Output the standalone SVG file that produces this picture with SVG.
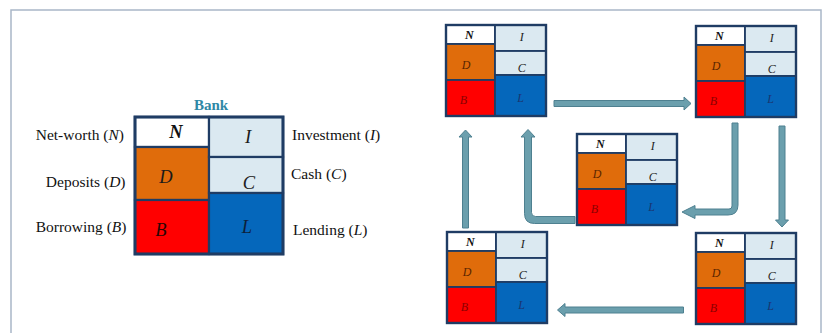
<svg xmlns="http://www.w3.org/2000/svg" xmlns:xlink="http://www.w3.org/1999/xlink" width="825" height="333" viewBox="0 0 825 333">
  <style>
    .frame { fill: none; stroke: #a9b7c8; stroke-width: 1.5; }
    .cell { stroke: #1f3c64; stroke-width: 2.2; }
    .outer { fill: none; stroke: #1f3c64; stroke-width: 3; }
    .scell { stroke: #1f3c64; stroke-width: 1.8; }
    .souter { fill: none; stroke: #1f3c64; stroke-width: 2.4; }
    .nw { fill: #ffffff; }
    .dep { fill: #e06c0b; }
    .bor { fill: #ff0000; }
    .lt { fill: #dbe9f1; }
    .len { fill: #0567bb; }
    .lbl { font-family: "Liberation Serif", "DejaVu Serif", serif; font-size: 15.5px; fill: #111; }
    .big { font-family: "Liberation Serif", "DejaVu Serif", serif; font-size: 18.5px; font-style: italic; text-anchor: middle; }
    .sm { font-family: "Liberation Serif", "DejaVu Serif", serif; font-size: 12px; font-style: italic; text-anchor: middle; }
    .title { font-family: "Liberation Serif", "DejaVu Serif", serif; font-size: 15px; font-weight: bold; fill: #2f88a6; text-anchor: middle; }
    .arrow { fill: #6b9fad; stroke: #4e8090; stroke-width: 1; stroke-linejoin: round; }
  </style>

  <defs>
    <!-- small balance-sheet block, 100 x 91 -->
    <g id="mini">
      <rect class="scell nw" x="0" y="0" width="49" height="19"/>
      <rect class="scell dep" x="0" y="19" width="49" height="36"/>
      <rect class="scell bor" x="0" y="55" width="49" height="36"/>
      <rect class="scell lt" x="49" y="0" width="51" height="26"/>
      <rect class="scell lt" x="49" y="26" width="51" height="24"/>
      <rect class="scell len" x="49" y="50" width="51" height="41"/>
      <rect class="souter" x="0" y="0" width="100" height="91"/>
      <text class="sm" x="23.3" y="13.5" font-weight="bold" fill="#111">N</text>
      <text class="sm" x="75.7" y="16" fill="#222">I</text>
      <text class="sm" x="20" y="43.5" fill="#5a2500">D</text>
      <text class="sm" x="75.7" y="47" fill="#2a2a2a">C</text>
      <text class="sm" x="17.3" y="78.5" fill="#8b0000">B</text>
      <text class="sm" x="74.7" y="77" fill="#1a3570">L</text>
    </g>
  </defs>

  <rect class="frame" x="11" y="10" width="810" height="340"/>

  <!-- bank balance sheet with labels -->
  <g id="bank">
    <text class="title" x="211" y="110">Bank</text>
    <rect class="cell nw" x="135" y="117" width="74" height="30"/>
    <rect class="cell dep" x="135" y="147" width="74" height="53"/>
    <rect class="cell bor" x="135" y="200" width="74" height="54"/>
    <rect class="cell lt" x="209" y="117" width="74" height="40"/>
    <rect class="cell lt" x="209" y="157" width="74" height="36"/>
    <rect class="cell len" x="209" y="193" width="74" height="61"/>
    <rect class="outer" x="135" y="117" width="148" height="137"/>
    <text class="big" x="176" y="138" font-weight="bold" fill="#111">N</text>
    <text class="big" x="248" y="143" fill="#1a1a1a">I</text>
    <text class="big" x="166" y="183" fill="#1a1a1a">D</text>
    <text class="big" x="249" y="189" fill="#222">C</text>
    <text class="big" x="161" y="235.5" fill="#2a0505">B</text>
    <text class="big" x="247" y="233" fill="#0d1f3a">L</text>

    <text class="lbl" x="124" y="140" text-anchor="end">Net-worth (<tspan font-style="italic">N</tspan>)</text>
    <text class="lbl" x="125.5" y="186.5" text-anchor="end">Deposits (<tspan font-style="italic">D</tspan>)</text>
    <text class="lbl" x="126.5" y="232" text-anchor="end">Borrowing (<tspan font-style="italic">B</tspan>)</text>
    <text class="lbl" x="292" y="140">Investment (<tspan font-style="italic">I</tspan>)</text>
    <text class="lbl" x="291" y="179">Cash (<tspan font-style="italic">C</tspan>)</text>
    <text class="lbl" x="293" y="235">Lending (<tspan font-style="italic">L</tspan>)</text>
  </g>

  <!-- cycle of balance sheets -->
  <g id="sheet-top-left"><use xlink:href="#mini" x="446" y="25"/></g>
  <g id="sheet-top-right"><use xlink:href="#mini" x="696" y="26"/></g>
  <g id="sheet-center"><use xlink:href="#mini" x="577" y="134"/></g>
  <g id="sheet-bottom-left"><use xlink:href="#mini" x="447" y="232"/></g>
  <g id="sheet-bottom-right"><use xlink:href="#mini" x="696" y="233"/></g>

  <g id="connectors">
    <path class="arrow" d="M554,100.5 H684 V97 L691,103.5 L684,110 V106.5 H554 Z"/>
    <path class="arrow" d="M462.5,228 V137 H459 L465.5,130 L472,137 H468.5 V228 Z"/>
    <path class="arrow" d="M575,216.5 H535.5 Q531.5,216.5 531.5,212.5 V137 H535 L528,129.5 L521,137 H524.5 V213.5 Q524.5,223.5 534.5,223.5 H575 Z"/>
    <path class="arrow" d="M732,123 H738 V205 Q738,215 728,215 H695 V218.5 L682,212 L695,205.5 V209 H729 Q732,209 732,206 Z"/>
    <path class="arrow" d="M779,126 H785 V220 H788.5 L782,227 L775.5,220 H779 Z"/>
    <path class="arrow" d="M683.5,307 V313 H565 V316.5 L557.5,310 L565,303.5 V307 Z"/>
  </g>
</svg>
